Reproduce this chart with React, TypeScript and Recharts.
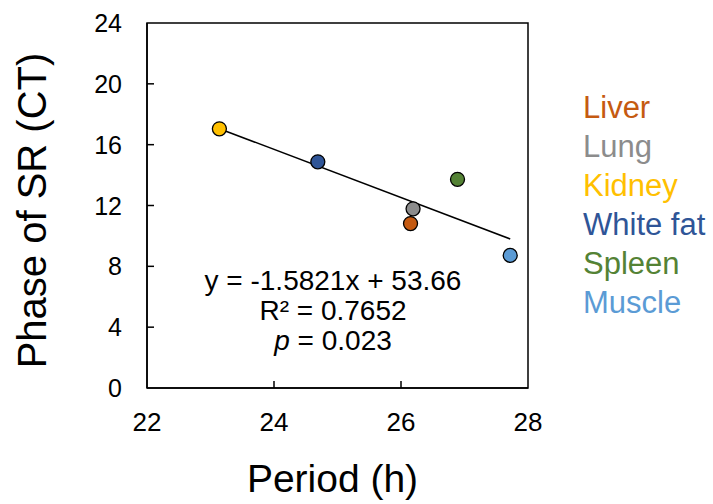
import React from "react";
import {
  ScatterChart,
  Scatter,
  XAxis,
  YAxis,
  ReferenceLine,
  ReferenceArea,
  Label,
} from "recharts";

const organs = ["Liver", "Lung", "Kidney", "White fat", "Spleen", "Muscle"];
const periods = [26.15, 26.19, 23.14, 24.69, 26.89, 27.72];
const phases = [10.81, 11.78, 17.04, 14.87, 13.72, 8.72];
const organColors = ["#C55A11", "#8C8C8C", "#FFC000", "#2F5597", "#548235", "#5B9BD5"];
const legendColors = ["#C55A11", "#8C8C8C", "#FFC000", "#2F5597", "#548235", "#5B9BD5"];

const trendX = [23.14, 27.72];
const trendY = [17.05, 9.8];

const xTicks = [22, 24, 26, 28];
const yTicks = [0, 4, 8, 12, 16, 20, 24];

const equationLines = ["y = -1.5821x + 53.66", "R² = 0.7652", "= 0.023"];

const FONT = "'Liberation Sans', Arial, sans-serif";

const XTick = (props: any) => {
  const { x, y, payload } = props;
  const inner = payload.value !== xTicks[0] && payload.value !== xTicks[xTicks.length - 1];
  return (
    <g>
      {inner && <line x1={x} x2={x} y1={y} y2={y - 7} stroke="#000" strokeWidth={1.5} />}
      <text x={x} y={y + 43} textAnchor="middle" fontSize={26} fontFamily={FONT} fill="#000">
        {payload.value}
      </text>
    </g>
  );
};

const YTick = (props: any) => {
  const { x, y, payload } = props;
  const inner = payload.value !== yTicks[0] && payload.value !== yTicks[yTicks.length - 1];
  return (
    <g>
      {inner && <line x1={x} x2={x + 7} y1={y} y2={y} stroke="#000" strokeWidth={1.5} />}
      <text x={x - 25} y={y + 9} textAnchor="end" fontSize={25} fontFamily={FONT} fill="#000">
        {payload.value}
      </text>
    </g>
  );
};

const Dot = (props: any) => (
  <circle cx={props.cx} cy={props.cy} r={7} fill={props.fill} stroke="#000" strokeWidth={1.3} />
);

export default function App() {
  const trend = trendX.map((x, i) => ({ x, y: trendY[i] }));
  return (
    <div style={{ position: "absolute", left: 0, top: 0, width: 713, height: 504, background: "#fff" }}>
      <ScatterChart width={713} height={504} margin={{ top: 23, right: 185, bottom: 0, left: 0 }}>
        <XAxis
          type="number"
          dataKey="x"
          domain={[22, 28]}
          ticks={xTicks}
          height={116}
          tickSize={0}
          tickMargin={0}
          tick={<XTick />}
          axisLine={{ stroke: "#000", strokeWidth: 1.5 }}
          tickLine={false}
        >
          <Label
            content={(p: any) => (
              <text
                x={p.viewBox.x + p.viewBox.width / 2 - 5}
                y={p.viewBox.y + 104}
                textAnchor="middle"
                fontSize={39}
                fontFamily={FONT}
                fill="#000"
              >
                Period (h)
              </text>
            )}
          />
        </XAxis>
        <YAxis
          type="number"
          dataKey="y"
          domain={[0, 24]}
          ticks={yTicks}
          width={147}
          tickSize={0}
          tickMargin={0}
          tick={<YTick />}
          axisLine={{ stroke: "#000", strokeWidth: 1.5 }}
          tickLine={false}
        >
          <Label
            content={(p: any) => {
              const cy = p.viewBox.y + p.viewBox.height / 2 + 5;
              return (
                <text
                  transform={`translate(${p.viewBox.x + 46},${cy}) rotate(-90)`}
                  textAnchor="middle"
                  fontSize={40}
                  fontFamily={FONT}
                  fill="#000"
                >
                  Phase of SR (CT)
                </text>
              );
            }}
          />
        </YAxis>
        <ReferenceArea x1={22} x2={28} y1={0} y2={24} fill="none" stroke="#000" strokeWidth={1.5} />
        <ReferenceLine
          segment={trend}
          stroke="#000"
          strokeWidth={1.5}
        />
        {organs.map((name, i) => (
          <Scatter
            key={name}
            name={name}
            data={[{ x: periods[i], y: phases[i] }]}
            fill={organColors[i]}
            shape={<Dot />}
            isAnimationActive={false}
          />
        ))}
      </ScatterChart>
      <svg
        width={713}
        height={504}
        style={{ position: "absolute", left: 0, top: 0, pointerEvents: "none" }}
        fontFamily={FONT}
      >
        <text x={333} y={290} textAnchor="middle" fontSize={28} fill="#000">
          {equationLines[0]}
        </text>
        <text x={333} y={320} textAnchor="middle" fontSize={28} fill="#000">
          {equationLines[1]}
        </text>
        <text x={333} y={350} textAnchor="middle" fontSize={28} fill="#000">
          <tspan fontStyle="italic">p</tspan> {equationLines[2]}
        </text>
        {organs.map((name, i) => (
          <text key={name} x={583} y={118 + 39 * i} fontSize={31} fill={legendColors[i]}>
            {name}
          </text>
        ))}
      </svg>
    </div>
  );
}
